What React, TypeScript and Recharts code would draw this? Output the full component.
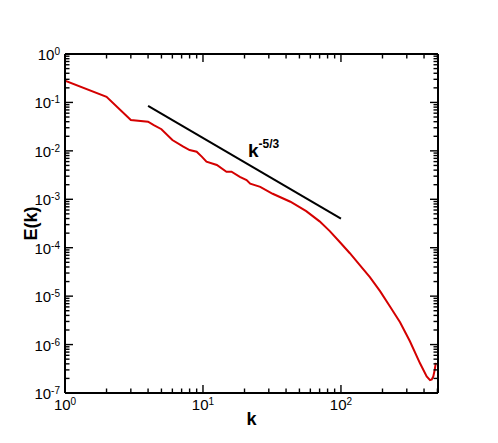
import { LineChart, Line, XAxis, YAxis, Label, ReferenceDot } from "recharts";

const specK = [
  1, 2, 3, 4, 4.4, 5, 6, 7.2, 8, 9, 9.8, 10.6, 12.6, 14.8, 16.1, 18.5, 20.7, 22,
  26, 32, 43, 56, 70, 83, 98, 116, 137, 162, 192, 226, 268, 316, 374, 418, 442,
  455, 467, 478, 487,
];
const specE = [
  0.28, 0.131, 0.0433, 0.04, 0.034, 0.028, 0.0167, 0.0122, 0.0104, 0.0096,
  0.0076, 0.006, 0.0051, 0.0037, 0.0037, 0.0029, 0.0025, 0.0021, 0.0018, 0.0013,
  0.00089, 0.00057, 0.00035, 0.00022, 0.000131, 0.000077, 0.0000437, 0.0000247,
  0.0000127, 0.0000062, 0.0000029, 0.00000117, 0.00000041, 0.00000022,
  0.000000184, 0.00000019, 0.00000022, 0.0000003, 0.00000042,
];

// reference slope line k^-5/3
const slopeK = [4, 100];
const slopeE = [0.085, 0.0004];

const xTicks = [
  1, 2, 3, 4, 5, 6, 7, 8, 9, 10, 20, 30, 40, 50, 60, 70, 80, 90, 100, 200, 300,
  400, 500,
];
const yExponents = [-7, -6, -5, -4, -3, -2, -1];
const yTicks = [
  ...yExponents.flatMap((n) =>
    [1, 2, 3, 4, 5, 6, 7, 8, 9].map((m) => m * Math.pow(10, n))
  ),
  1,
];

const spectrum = specK.map((k, i) => ({ k, E: specE[i] }));
const slope = slopeK.map((k, i) => ({ k, E: slopeE[i] }));

const FONT = '"Liberation Sans", Arial, sans-serif';

const isMajor = (v: number) => {
  const l = Math.log10(v);
  return Math.abs(l - Math.round(l)) < 1e-6;
};

const PowerLabel = ({ v, ...rest }: any) => (
  <text fontFamily={FONT} fontSize={15} fill="#000" {...rest}>
    <tspan>10</tspan>
    <tspan dy={-5} fontSize={10}>
      {Math.round(Math.log10(v))}
    </tspan>
  </text>
);

const makeTick =
  (side: "bottom" | "top" | "left" | "right", labels: boolean) =>
  (props: any) => {
    const { x, y, payload } = props;
    const v = payload?.value;
    const major = isMajor(v);
    const len = major ? 8 : 4.5;
    let x2 = x;
    let y2 = y;
    if (side === "bottom") y2 = y - len;
    else if (side === "top") y2 = y + len;
    else if (side === "left") x2 = x + len;
    else x2 = x - len;
    return (
      <g>
        <line x1={x} y1={y} x2={x2} y2={y2} stroke="#000" strokeWidth={1.4} />
        {labels && major && side === "bottom" && (
          <PowerLabel v={v} x={x} y={y + 17} textAnchor="middle" />
        )}
        {labels && major && side === "left" && (
          <PowerLabel v={v} x={x - 5} y={y + 6} textAnchor="end" />
        )}
      </g>
    );
  };

export default function App() {
  return (
    <div style={{ width: 480, height: 430 }}>
      <LineChart
        width={480}
        height={430}
        margin={{ top: 0, right: 0, bottom: 0, left: 0 }}
      >
        <XAxis
          dataKey="k"
          type="number"
          scale="log"
          domain={[1, 505]}
          allowDataOverflow
          ticks={xTicks}
          interval={0}
          height={45}
          tickSize={0}
          tickMargin={0}
          tickLine={false}
          axisLine={{ stroke: "#000", strokeWidth: 2 }}
          tick={makeTick("bottom", true)}
        >
          <Label
            content={({ viewBox }: any) => (
              <text
                x={viewBox.x + viewBox.width / 2}
                y={viewBox.y + 32}
                textAnchor="middle"
                fontFamily={FONT}
                fontWeight="bold"
                fontSize={18}
              >
                k
              </text>
            )}
          />
        </XAxis>
        <XAxis
          xAxisId="top"
          orientation="top"
          dataKey="k"
          type="number"
          scale="log"
          domain={[1, 505]}
          allowDataOverflow
          ticks={xTicks}
          interval={0}
          height={46}
          tickSize={0}
          tickMargin={0}
          tickLine={false}
          axisLine={{ stroke: "#000", strokeWidth: 2 }}
          tick={makeTick("top", false)}
        />
        <YAxis
          dataKey="E"
          type="number"
          scale="log"
          domain={[1e-7, 1]}
          allowDataOverflow
          ticks={yTicks}
          interval={0}
          width={57}
          tickSize={0}
          tickMargin={0}
          tickLine={false}
          axisLine={{ stroke: "#000", strokeWidth: 2 }}
          tick={makeTick("left", true)}
        >
          <Label
            content={({ viewBox }: any) => {
              const cx = viewBox.x + 29;
              const cy = viewBox.y + viewBox.height / 2;
              return (
                <text
                  x={cx}
                  y={cy}
                  transform={`rotate(-90 ${cx} ${cy})`}
                  textAnchor="middle"
                  fontFamily={FONT}
                  fontWeight="bold"
                  fontSize={18}
                >
                  E(k)
                </text>
              );
            }}
          />
        </YAxis>
        <YAxis
          yAxisId="right"
          orientation="right"
          type="number"
          scale="log"
          domain={[1e-7, 1]}
          allowDataOverflow
          ticks={yTicks}
          interval={0}
          width={50}
          tickSize={0}
          tickMargin={0}
          tickLine={false}
          axisLine={{ stroke: "#000", strokeWidth: 2 }}
          tick={makeTick("right", false)}
        />
        <Line
          data={spectrum}
          dataKey="E"
          type="linear"
          stroke="#d40000"
          strokeWidth={2}
          dot={false}
          isAnimationActive={false}
        />
        <Line
          data={slope}
          dataKey="E"
          type="linear"
          stroke="#000"
          strokeWidth={2}
          dot={false}
          isAnimationActive={false}
        />
        <ReferenceDot
          x={21.2}
          y={0.0075}
          shape={(p: any) => (
            <text x={p.cx} y={p.cy} fontFamily={FONT} fontWeight="bold">
              <tspan fontSize={19}>k</tspan>
              <tspan fontSize={12} dy={-9}>
                -5/3
              </tspan>
            </text>
          )}
        />
      </LineChart>
    </div>
  );
}
